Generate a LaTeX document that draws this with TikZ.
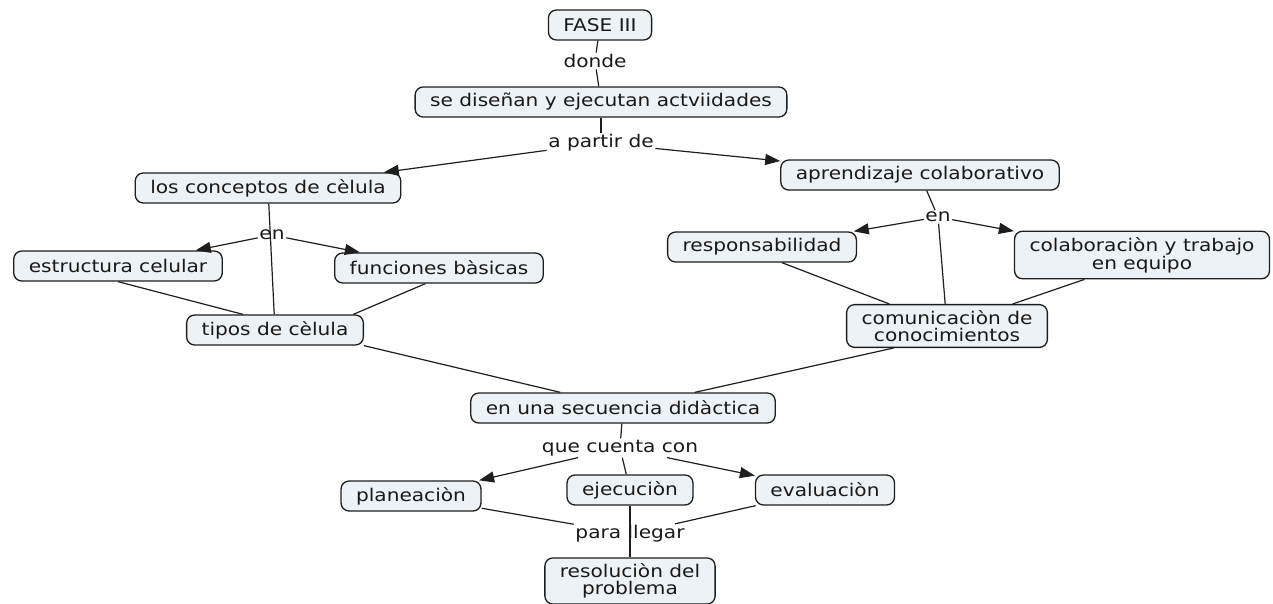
\documentclass[tikz,border=0pt]{standalone}
\usepackage{xcolor}
\usepackage{fontspec}
\setmainfont{DejaVu Sans}[FakeStretch=1.15]
\usepackage{tikz}
\usetikzlibrary{arrows.meta,calc}

\definecolor{cmapfill}{RGB}{236,242,246}
\definecolor{cmapline}{RGB}{30,30,30}
\definecolor{cmaptext}{RGB}{25,25,25}

\begin{document}
\begin{tikzpicture}[x=1pt, y=-1pt, font=\fontsize{17.5}{16.5}\selectfont, text=cmaptext]
    % Styles
    \tikzstyle{cbox} = [rectangle, draw=cmapline, line width=1.3pt, fill=cmapfill, rounded corners=8pt, align=center, inner xsep=15pt, inner ysep=6pt, minimum height=30pt]
    \tikzstyle{lbl} = [inner sep=1.5pt, align=center]
    \tikzstyle{cline} = [draw=cmapline, line width=1.2pt]
    \tikzstyle{arrow} = [cline, -{Triangle[length=15pt,width=11pt]}]

    \useasboundingbox (0,0) rectangle (1273,603);

    % Nodes - top
    \node [cbox] (fase) at (600,25) {FASE III};
    \node [lbl] (donde) at (595,61) {donde};
    \node [cbox] (disenan) at (601,102) {se diseñan y ejecutan actviidades};
    \node [lbl] (apartir) at (601,143) {a partir de};

    % Nodes - left branch
    \node [cbox] (conceptos) at (268,188) {los conceptos de cèlula};
    \node [lbl] (enL) at (272,235) {en};
    \node [cbox] (estructura) at (118,266) {estructura celular};
    \node [cbox] (funciones) at (439,268) {funciones bàsicas};
    \node [cbox] (tipos) at (275,330) {tipos de cèlula};

    % Nodes - right branch
    \node [cbox] (aprendizaje) at (920,175) {aprendizaje colaborativo};
    \node [lbl] (enR) at (938,217) {en};
    \node [cbox] (resp) at (762,247) {responsabilidad};
    \node [cbox] (colab) at (1142,255) {colaboraciòn y trabajo\\en equipo};
    \node [cbox] (comu) at (947,326) {comunicaciòn de\\conocimientos};

    % Nodes - bottom
    \node [cbox] (secu) at (623,408) {en una secuencia didàctica};
    \node [lbl] (cuenta) at (620,448) {que cuenta con};
    \node [cbox] (plan) at (411,496) {planeaciòn};
    \node [cbox] (ejec) at (630,490) {ejecuciòn};
    \node [cbox] (eval) at (825,490) {evaluaciòn};
    \node [lbl] (llegar) at (630,534) {para llegar};
    \node [cbox] (resol) at (630,581) {resoluciòn del\\problema};

    % Top links
    \draw[cline] (fase) -- (donde) -- (disenan);
    \draw[cline] (disenan) -- (apartir);
    \draw[arrow] (apartir) -- (conceptos);
    \draw[arrow] (apartir) -- (aprendizaje);

    % Left branch links
    \draw[cline] (conceptos) -- (tipos);
    \draw[arrow] (enL) -- (estructura);
    \draw[arrow] (enL) -- (funciones);
    \draw[cline] (estructura.south) -- ($(tipos.north)!0.36!(tipos.north west)$);
    \draw[cline] ($(funciones.south)!0.13!(funciones.south west)$) -- ($(tipos.north)!0.88!(tipos.north east)$);

    % Right branch links
    \draw[cline] (aprendizaje) -- (enR) -- (comu);
    \draw[arrow] (enR) -- (resp);
    \draw[arrow] (enR) -- (colab);
    \draw[cline] ($(resp.south)!0.21!(resp.south east)$) -- ($(comu.north)!0.57!(comu.north west)$);
    \draw[cline] ($(colab.south)!0.45!(colab.south west)$) -- ($(comu.north)!0.65!(comu.north east)$);

    % Both branches meet
    \draw[cline] (tipos.south east) -- ($(secu.north)!0.41!(secu.north west)$);
    \draw[cline] ($(comu.south)!0.53!(comu.south west)$) -- ($(secu.north)!0.47!(secu.north east)$);

    % Bottom links
    \draw[cline] (secu) -- (cuenta);
    \draw[arrow] (cuenta) -- (plan);
    \draw[cline] (cuenta) -- (ejec);
    \draw[arrow] (cuenta) -- (eval);
    \draw[cline] (plan) -- (llegar);
    \draw[cline] (eval) -- (llegar);
    \draw[cline] (ejec) -- (resol);

\end{tikzpicture}
\end{document}
